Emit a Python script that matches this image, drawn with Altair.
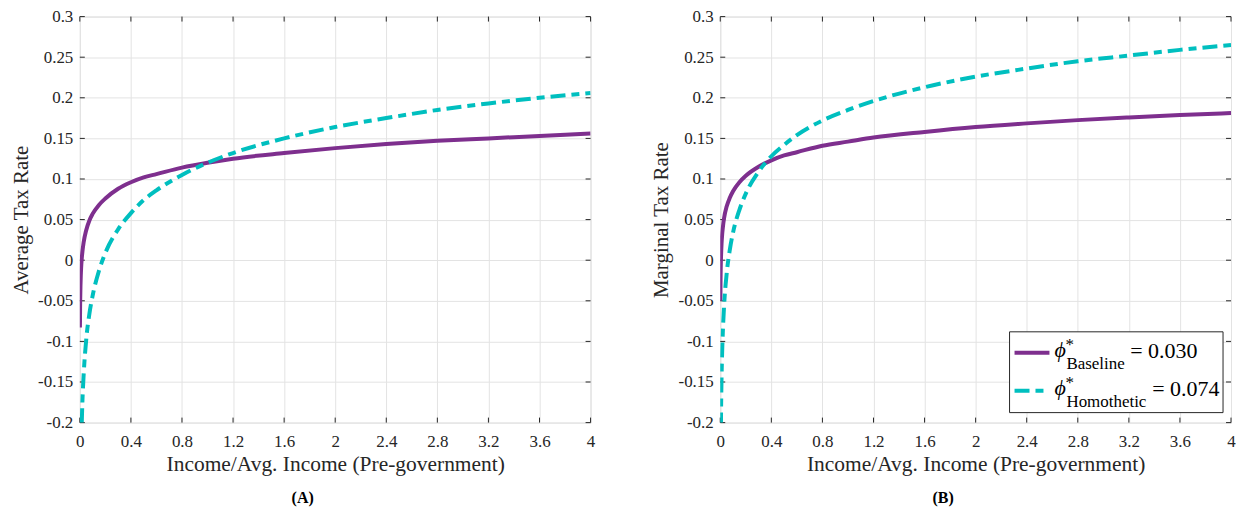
import altair as alt
import pandas as pd

# ---------------- data ----------------
x_ticks = [0, 0.4, 0.8, 1.2, 1.6, 2, 2.4, 2.8, 3.2, 3.6, 4]
y_ticks = [-0.2, -0.15, -0.1, -0.05, 0, 0.05, 0.1, 0.15, 0.2, 0.25, 0.3]

x_baseline = [0.001, 0.002, 0.003, 0.005, 0.0075, 0.01, 0.015, 0.02, 0.03, 0.05,
              0.075, 0.1, 0.15, 0.2, 0.3, 0.4, 0.5, 0.6, 0.8, 1.0, 1.2, 1.6,
              2.0, 2.4, 2.8, 3.2, 3.6, 4.0]
avg_baseline = [-0.083, -0.060, -0.048, -0.032, -0.019, -0.010, 0.002, 0.010, 0.022, 0.037,
                0.049, 0.057, 0.068, 0.076, 0.088, 0.096, 0.102, 0.106, 0.114, 0.120,
                0.125, 0.132, 0.138, 0.143, 0.147, 0.150, 0.153, 0.156]
marg_baseline = [-0.050, -0.029, -0.016, -0.001, 0.011, 0.020, 0.032, 0.040, 0.052, 0.066,
                 0.077, 0.085, 0.096, 0.104, 0.115, 0.123, 0.129, 0.133, 0.141, 0.146,
                 0.151, 0.158, 0.164, 0.1685, 0.1725, 0.1758, 0.1787, 0.1812]

x_avg_homothetic = [0.015, 0.02, 0.03, 0.05, 0.075, 0.1, 0.15, 0.2, 0.3, 0.4, 0.5, 0.6,
                    0.8, 1.0, 1.2, 1.6, 2.0, 2.4, 2.8, 3.2, 3.6, 4.0]
avg_homothetic = [-0.201, -0.175, -0.141, -0.098, -0.066, -0.044, -0.013, 0.009, 0.038,
                  0.058, 0.074, 0.086, 0.105, 0.120, 0.132, 0.150, 0.164, 0.175, 0.185,
                  0.193, 0.200, 0.206]

x_marg_homothetic = [0.005, 0.0075, 0.01, 0.015, 0.02, 0.03, 0.05, 0.075, 0.1, 0.15, 0.2,
                     0.3, 0.4, 0.5, 0.6, 0.8, 1.0, 1.2, 1.6, 2.0, 2.4, 2.8, 3.2, 3.6, 4.0]
marg_homothetic = [-0.206, -0.170, -0.146, -0.112, -0.089, -0.056, -0.017, 0.013, 0.034,
                   0.062, 0.082, 0.109, 0.128, 0.142, 0.154, 0.172, 0.185, 0.196, 0.213,
                   0.226, 0.236, 0.245, 0.252, 0.259, 0.265]

series_names = ["Baseline", "Homothetic"]
phi_values = ["0.030", "0.074"]

# ---------------- style ----------------
PURPLE = "#7E2F8E"
CYAN = "#00BFBF"
AXC = "#262626"
GRID = "#E3E3E3"
FONT = "Liberation Serif"
W, H = 512, 407
DASH = [15, 6, 8, 6]

xscale = alt.Scale(domain=[0, 4], nice=False, zero=False)
yscale = alt.Scale(domain=[-0.2, 0.3], nice=False, zero=False)


def x_axis():
    return alt.Axis(values=x_ticks, labelExpr="toString(datum.value)", grid=True,
                    gridColor=GRID, ticks=False, tickSize=0, domain=False,
                    labelFont=FONT, labelFontSize=17, labelColor=AXC, labelPadding=11,
                    titleFont=FONT, titleFontSize=21.5, titleFontWeight="normal",
                    titleColor=AXC, titlePadding=4, labelFlush=False)


def y_axis():
    return alt.Axis(values=y_ticks, labelExpr="toString(datum.value)", grid=True,
                    gridColor=GRID, ticks=False, tickSize=0, domain=False,
                    labelFont=FONT, labelFontSize=17, labelColor=AXC, labelPadding=7,
                    titleFont=FONT, titleFontSize=21, titleFontWeight="normal",
                    titleColor=AXC, titlePadding=6)


XT = "Income/Avg. Income (Pre-government)"


def panel(xb, yb, xh, yh, ytitle, caption, with_legend):
    X = alt.X("x:Q", scale=xscale, axis=x_axis(), title=XT)
    Y = alt.Y("y:Q", scale=yscale, axis=y_axis(), title=ytitle)

    df_b = pd.DataFrame({"x": xb, "y": yb})
    df_h = pd.DataFrame({"x": xh, "y": yh})
    df_xt = pd.DataFrame({"x": x_ticks})
    df_yt = pd.DataFrame({"y": y_ticks})

    line_b = alt.Chart(df_b).mark_line(color=PURPLE, strokeWidth=4, clip=True,
                                       interpolate="monotone").encode(x=X, y=Y)
    line_h = alt.Chart(df_h).mark_line(color=CYAN, strokeWidth=4, clip=True,
                                       strokeDash=DASH, interpolate="monotone").encode(x=X, y=Y)

    tb = alt.Chart(df_xt).mark_rule(color=AXC, strokeWidth=1).encode(
        x=X, y=alt.value(H - 5), y2=alt.value(H))
    tt = alt.Chart(df_xt).mark_rule(color=AXC, strokeWidth=1).encode(
        x=X, y=alt.value(0), y2=alt.value(5))
    tl = alt.Chart(df_yt).mark_rule(color=AXC, strokeWidth=1).encode(
        y=Y, x=alt.value(0), x2=alt.value(5))
    tr = alt.Chart(df_yt).mark_rule(color=AXC, strokeWidth=1).encode(
        y=Y, x=alt.value(W - 5), x2=alt.value(W))

    layers = [tb, tt, tl, tr, line_b, line_h]

    if with_legend:
        one = pd.DataFrame({"a": [0]})
        bx1 = W - 8
        bx0 = bx1 - 214
        by0, by1 = 316, 397
        box = alt.Chart(one).mark_rect(fill="white", stroke=AXC, strokeWidth=1).encode(
            x=alt.value(bx0), x2=alt.value(bx1), y=alt.value(by0), y2=alt.value(by1))
        s1 = alt.Chart(one).mark_rule(color=PURPLE, strokeWidth=4).encode(
            x=alt.value(bx0 + 5), x2=alt.value(bx0 + 40), y=alt.value(337))
        s2 = alt.Chart(one).mark_rule(color=CYAN, strokeWidth=4, strokeDash=[15, 6, 8, 6]).encode(
            x=alt.value(bx0 + 5), x2=alt.value(bx0 + 40), y=alt.value(375))
        layers += [box, s1, s2]
        rows = [(0, 341), (1, 379)]
        for i, yb0 in rows:
            phi = alt.Chart(one).mark_text(align="left", baseline="alphabetic", font=FONT,
                                           fontSize=22, fontStyle="italic", color="black").encode(
                x=alt.value(bx0 + 45), y=alt.value(yb0), text=alt.value("ϕ"))
            star = alt.Chart(one).mark_text(align="left", baseline="alphabetic", font=FONT,
                                            fontSize=17, color="black").encode(
                x=alt.value(bx0 + 56), y=alt.value(yb0 - 7), text=alt.value("*"))
            sub = alt.Chart(one).mark_text(align="left", baseline="alphabetic", font=FONT,
                                           fontSize=17, color="black").encode(
                x=alt.value(bx0 + 57), y=alt.value(yb0 + 12), text=alt.value(series_names[i]))
            eq_x = bx0 + (121 if i == 0 else 143)
            eq = alt.Chart(one).mark_text(align="left", baseline="alphabetic", font=FONT,
                                          fontSize=22, color="black").encode(
                x=alt.value(eq_x), y=alt.value(yb0 + 1), text=alt.value("= " + phi_values[i]))
            layers += [phi, star, sub, eq]

    return alt.layer(*layers).properties(
        width=W, height=H,
        title=alt.TitleParams(caption, orient="bottom", anchor="middle", frame="bounds",
                              font=FONT, fontSize=16, fontWeight="bold", color="black",
                              offset=15))


pa = panel(x_baseline, avg_baseline, x_avg_homothetic, avg_homothetic,
           "Average Tax Rate", "(A)", False)
pb = panel(x_baseline, marg_baseline, x_marg_homothetic, marg_homothetic,
           "Marginal Tax Rate", "(B)", True)

chart = alt.hconcat(pa, pb, spacing=55).properties(
    padding={"left": 2, "top": -2, "right": 0, "bottom": 0}
).configure_view(stroke=AXC, strokeWidth=1).configure(background="white")

chart.save("out.html", embed_options={"renderer": "svg", "actions": False})
